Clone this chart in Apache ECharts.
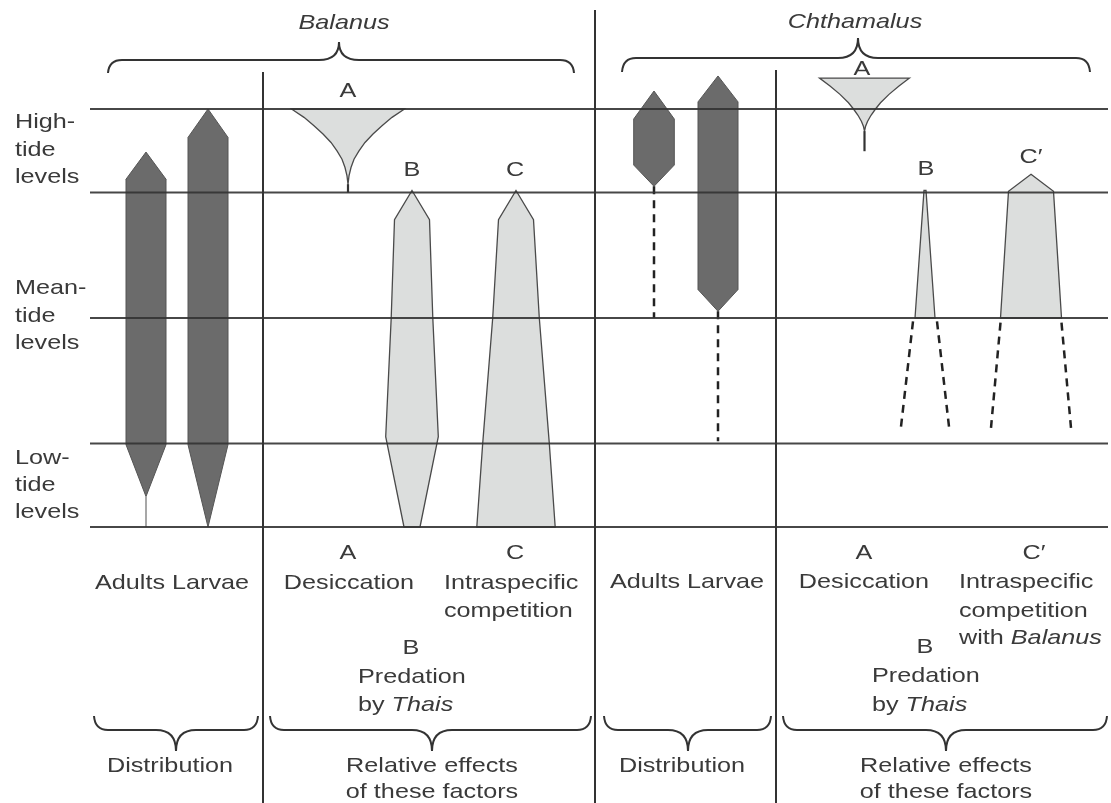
<!DOCTYPE html>
<html>
<head>
<meta charset="utf-8">
<style>
html,body{margin:0;padding:0;background:#fff;}
#chart{width:1111px;height:803px;}
</style>
<script src="https://cdn.jsdelivr.net/npm/echarts@6/dist/echarts.min.js"></script>
</head>
<body>
<div id="chart"></div>
<script>
// ================= DATA =================
// Tide-level boundaries (low water = 0 ... high water = 10)
const tideLevels = [0, 2, 5, 8, 10];
const zoneNames = [['High-', 'tide', 'levels'], ['Mean-', 'tide', 'levels'], ['Low-', 'tide', 'levels']];
const speciesNames = ['Balanus', 'Chthamalus'];
const factorLetters = ['A', 'B', 'C', 'C\u2032'];

// Profiles: [tide level, half-width (relative magnitude)]
const balanusAdults      = [[8.97, 0], [8.32, 20], [1.97, 20], [0.73, 0]];
const balanusAdultsStem  = [0.73, 0];
const balanusLarvae      = [[10, 0], [9.32, 20], [1.97, 20], [0, 0]];
const balanusDesiccation = [[10, 56.5], [9.8, 44], [9.6, 34], [9.4, 25], [9.2, 17], [9.0, 11], [8.8, 6], [8.6, 3], [8.4, 1], [8.2, 0]];
const balanusDesiccationStem = [8.2, 8.0];
const balanusPredation   = [[8.05, 0], [7.35, 17.5], [5, 20.8], [2.16, 26.3], [0, 8]];
const balanusCompetition = [[8.05, 0], [7.35, 17.5], [5, 23.3], [2, 33.3], [0, 39.2]];

const chthAdults      = [[10.43, 0], [9.76, 20.3], [8.66, 20.3], [8.15, 0]];
const chthAdultsDash  = [8.15, 5];
const chthLarvae      = [[10.79, 0], [10.17, 20], [5.68, 20], [5.16, 0]];
const chthLarvaeDash  = [5.16, 2.05];
const chthDesiccation = [[10.74, 45], [10.55, 34.5], [10.35, 24.5], [10.15, 16], [10.0, 11], [9.85, 6.5], [9.7, 3], [9.58, 1], [9.47, 0]];
const chthDesiccationStem = [9.47, 8.99];
const chthPredation      = [[8.05, 1], [5, 10]];
const chthPredationFlare = [[4.92, 12], [2.40, 24]];
const chthCompetition      = [[8.44, 0], [8.03, 22.5], [5, 30.5]];
const chthCompetitionFlare = [[4.89, 30.5], [2.37, 40]];

// ================= LAYOUT / STYLE =================
const FONT = 'Liberation Sans, Arial, Helvetica, sans-serif';
const TXT = '#3a3a3a';
const LINE = '#333333';
const DARK = '#6b6b6b', DARK_EDGE = '#555555';
const LIGHT = '#dcdedd', LIGHT_EDGE = '#4a4a4a';
const SX = 1.2;
const LAYOUT = {
  gridTop: 109, gridBottom: 276,
  lineX: [90, 1108],
  separators: [[263, 72], [595, 10], [776, 70]]
};
const STEM = {
  thin:  {stroke: '#8a8a8a', lineWidth: 1.5},
  solid: {stroke: '#333', lineWidth: 2.2},
  dash:  {stroke: '#222', lineWidth: 2.5, lineDash: [8, 6]}
};
const shapes = [
  {p: balanusAdults, cx: 146, fill: DARK, stem: balanusAdultsStem, stemStyle: 'thin'},
  {p: balanusLarvae, cx: 208, fill: DARK},
  {p: balanusDesiccation, cx: 348, fill: LIGHT, stem: balanusDesiccationStem, stemStyle: 'solid'},
  {p: balanusPredation, cx: 412, fill: LIGHT},
  {p: balanusCompetition, cx: 516, fill: LIGHT},
  {p: chthAdults, cx: 654, fill: DARK, stem: chthAdultsDash, stemStyle: 'dash'},
  {p: chthLarvae, cx: 718, fill: DARK, stem: chthLarvaeDash, stemStyle: 'dash'},
  {p: chthDesiccation, cx: 864.5, fill: LIGHT, stem: chthDesiccationStem, stemStyle: 'solid'},
  {p: chthPredation, cx: 925, fill: LIGHT, flare: chthPredationFlare},
  {p: chthCompetition, cx: 1031, fill: LIGHT, flare: chthCompetitionFlare}
];

// ================= HELPERS =================
function T(str, x, y, align, size) {
  const base = {fontSize: size || 21, fontFamily: FONT, fill: TXT};
  return {
    type: 'text', x: x, y: y, scaleX: SX, z: 50, silent: true,
    style: Object.assign({
      text: str, align: align || 'center', verticalAlign: 'middle',
      rich: {i: Object.assign({}, base, {fontStyle: 'italic'}), n: Object.assign({}, base)}
    }, base)
  };
}
function ln(x1, y1, x2, y2, w) {
  return {type: 'line', z: 40, silent: true, shape: {x1: x1, y1: y1, x2: x2, y2: y2},
    style: {stroke: LINE, lineWidth: w || 2}};
}
function bz(x1, y1, x2, y2, cx, cy) {
  return {type: 'bezierCurve', z: 40, silent: true,
    shape: {x1: x1, y1: y1, x2: x2, y2: y2, cpx1: cx, cpy1: cy},
    style: {stroke: LINE, lineWidth: 2, fill: 'none'}};
}
function brace(x0, x1, xc, yEnd, yH, yTip) {
  const r = 14, rc = 20;
  return [
    bz(x0, yEnd, x0 + r, yH, x0 + 1, yH),
    ln(x0 + r, yH, xc - rc, yH),
    bz(xc - rc, yH, xc, yTip, xc, yH),
    bz(xc + rc, yH, xc, yTip, xc, yH),
    ln(xc + rc, yH, x1 - r, yH),
    bz(x1, yEnd, x1 - r, yH, x1 - 1, yH)
  ];
}

// ================= GRAPHIC (frame + text) =================
const graphics = [];
LAYOUT.separators.forEach(s => graphics.push(ln(s[0], s[1], s[0], 803)));
// top braces
graphics.push(...brace(108, 574, 339, 73, 60, 42));
graphics.push(...brace(622, 1090, 858, 72, 58, 38));
// bottom braces
graphics.push(...brace(94, 258, 176, 716, 730, 751));
graphics.push(...brace(270, 591, 432, 716, 730, 751));
graphics.push(...brace(604, 771, 688, 716, 730, 751));
graphics.push(...brace(783, 1107, 946, 716, 730, 751));

// species titles
graphics.push(T('{i|' + speciesNames[0] + '}', 344, 23));
graphics.push(T('{i|' + speciesNames[1] + '}', 855, 22));

// zone labels
const zoneY = [[122, 150, 177], [288, 316, 343], [458, 485, 512]];
zoneNames.forEach((z, i) => z.forEach((w, j) => graphics.push(T(w, 15, zoneY[i][j], 'left'))));

// factor letters on the plot
graphics.push(T(factorLetters[0], 348, 91));
graphics.push(T(factorLetters[1], 412, 170));
graphics.push(T(factorLetters[2], 515, 170));
graphics.push(T(factorLetters[0], 862, 69));
graphics.push(T(factorLetters[1], 926, 169));
graphics.push(T(factorLetters[3], 1031, 157));

// Balanus bottom texts
graphics.push(T('Adults Larvae', 172, 583));
graphics.push(T(factorLetters[0], 348, 553));
graphics.push(T('Desiccation', 349, 583));
graphics.push(T(factorLetters[2], 515, 553));
graphics.push(T('Intraspecific', 444, 583, 'left'));
graphics.push(T('competition', 444, 611, 'left'));
graphics.push(T(factorLetters[1], 411, 648));
graphics.push(T('Predation', 358, 677, 'left'));
graphics.push(T('by {i|Thais}', 358, 705, 'left'));
graphics.push(T('Distribution', 170, 766));
graphics.push(T('Relative effects', 432, 766));
graphics.push(T('of these factors', 432, 792));

// Chthamalus bottom texts
graphics.push(T('Adults Larvae', 687, 582));
graphics.push(T(factorLetters[0], 864, 553));
graphics.push(T('Desiccation', 864, 582));
graphics.push(T(factorLetters[3], 1034, 553));
graphics.push(T('Intraspecific', 959, 582, 'left'));
graphics.push(T('competition', 959, 611, 'left'));
graphics.push(T('with {i|Balanus}', 959, 638, 'left'));
graphics.push(T(factorLetters[1], 925, 647));
graphics.push(T('Predation', 872, 676, 'left'));
graphics.push(T('by {i|Thais}', 872, 705, 'left'));
graphics.push(T('Distribution', 682, 766));
graphics.push(T('Relative effects', 946, 766));
graphics.push(T('of these factors', 946, 792));

// ================= CHART =================
const chart = echarts.init(document.getElementById('chart'), null, {renderer: 'canvas'});
chart.setOption({
  backgroundColor: '#ffffff',
  animation: false,
  grid: {left: 0, right: 0, top: LAYOUT.gridTop, bottom: LAYOUT.gridBottom, containLabel: false},
  xAxis: {type: 'value', min: 0, max: 1111, show: false},
  yAxis: {type: 'value', min: 0, max: 10, show: false},
  series: [
    {
      type: 'custom', name: 'profiles', clip: false, z: 2, silent: true,
      data: shapes.map((s, i) => [i]),
      renderItem: function (params, api) {
        const s = shapes[params.dataIndex];
        const R = s.p.map(d => api.coord([s.cx + d[1], d[0]]));
        const L = s.p.slice().reverse().map(d => api.coord([s.cx - d[1], d[0]]));
        const dark = s.fill === DARK;
        const kids = [{
          type: 'polygon', shape: {points: R.concat(L)},
          style: {fill: s.fill, stroke: dark ? DARK_EDGE : LIGHT_EDGE, lineWidth: dark ? 1 : 1.3}
        }];
        if (s.stem) {
          const a = api.coord([s.cx, s.stem[0]]), b = api.coord([s.cx, s.stem[1]]);
          kids.push({type: 'line', shape: {x1: a[0], y1: a[1], x2: b[0], y2: b[1]}, style: STEM[s.stemStyle]});
        }
        if (s.flare) {
          [-1, 1].forEach(sign => {
            const a = api.coord([s.cx + sign * s.flare[0][1], s.flare[0][0]]);
            const b = api.coord([s.cx + sign * s.flare[1][1], s.flare[1][0]]);
            kids.push({type: 'line', shape: {x1: a[0], y1: a[1], x2: b[0], y2: b[1]}, style: STEM.dash});
          });
        }
        return {type: 'group', children: kids};
      }
    },
    {
      type: 'custom', name: 'tide lines', clip: false, z: 5, silent: true,
      data: tideLevels.map(v => [v]),
      renderItem: function (params, api) {
        const lvl = tideLevels[params.dataIndex];
        const a = api.coord([LAYOUT.lineX[0], lvl]), b = api.coord([LAYOUT.lineX[1], lvl]);
        return {type: 'line', shape: {x1: a[0], y1: a[1], x2: b[0], y2: b[1]},
          style: {stroke: LINE, lineWidth: 2, opacity: 0.9}};
      }
    }
  ],
  graphic: {elements: graphics}
});
</script>
</body>
</html>
